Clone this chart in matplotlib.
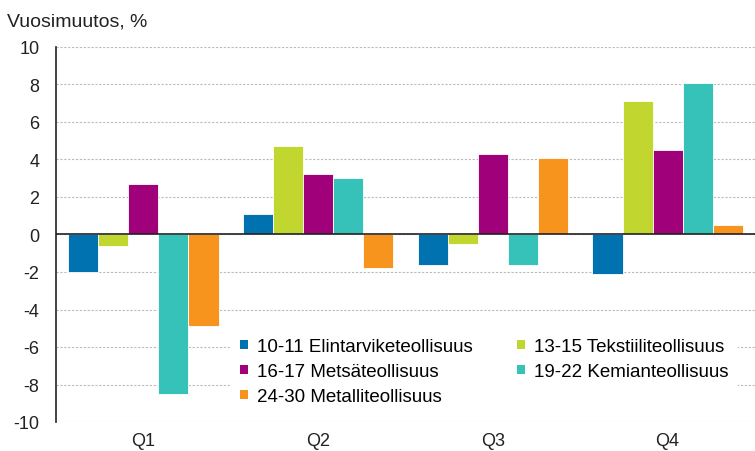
import numpy as np
import matplotlib.pyplot as plt
from matplotlib.patches import Patch

plt.rcParams['font.family'] = ['Liberation Sans', 'DejaVu Sans']
plt.rcParams['axes.unicode_minus'] = False

quarters = ['Q1', 'Q2', 'Q3', 'Q4']
series = [
    '10-11 Elintarviketeollisuus',
    '13-15 Tekstiiliteollisuus',
    '16-17 Metsäteollisuus',
    '19-22 Kemianteollisuus',
    '24-30 Metalliteollisuus',
]
elintarvike = [-2.0, 1.1, -1.6, -2.1]
tekstiili = [-0.6, 4.7, -0.5, 7.1]
metsa = [2.7, 3.2, 4.3, 4.5]
kemia = [-8.5, 3.0, -1.6, 8.1]
metalli = [-4.9, -1.8, 4.1, 0.5]
values = [elintarvike, tekstiili, metsa, kemia, metalli]
colors = ['#0072b0', '#c1d72f', '#a1007b', '#36c2b9', '#f7941e']

fig = plt.figure(figsize=(7.55, 4.52), dpi=100)
ax = fig.add_axes([56 / 755, 1 - 423 / 452, 699 / 755, 375 / 452])

x = np.arange(len(quarters))
w = 0.172
for i, (vals, c) in enumerate(zip(values, colors)):
    ax.bar(x + (i - 2) * w, vals, width=w, color=c, edgecolor='white',
           linewidth=0.6, zorder=3)

ax.set_xlim(-0.5, 3.5)
ax.set_ylim(-10, 10)
ax.set_yticks(np.arange(-10, 11, 2))
ax.set_xticks(x)
ax.set_xticklabels(quarters)
ax.tick_params(axis='both', length=0, labelsize=13, colors='#222222')
ax.tick_params(axis='x', pad=7)
ax.tick_params(axis='y', pad=12)
ax.yaxis.grid(True, color='#bbbbbb', linestyle=(0, (2, 1.5)), linewidth=0.8, zorder=0)
ax.axhline(0, color='#222222', linewidth=1.2, zorder=4)
for s in ['top', 'right', 'bottom']:
    ax.spines[s].set_visible(False)
ax.spines['left'].set_color('#222222')
ax.spines['left'].set_linewidth(1.2)

fig.text(7 / 755, 1 - 22 / 452, 'Vuosimuutos, %', fontsize=14, color='#222222',
         va='center', ha='left')

# legend is filled row by row in the reference
order = [0, 2, 4, 1, 3]
handles = [Patch(facecolor=colors[k], edgecolor='none') for k in order]
labels = [series[k] for k in order]
leg = fig.legend(handles, labels, ncol=2, loc='upper left',
                 bbox_to_anchor=(231 / 755, 1 - 330 / 452),
                 frameon=True, fontsize=13.5, handlelength=0.4, handleheight=0.4,
                 handletextpad=0.5, columnspacing=2.35, labelspacing=0.42,
                 borderaxespad=0, borderpad=0.5, fancybox=False)
leg.get_frame().set_edgecolor('white')
leg.get_frame().set_facecolor('white')
leg.get_frame().set_alpha(1)
leg.get_frame().set_linewidth(0)

fig.savefig('out.png', dpi=100)
